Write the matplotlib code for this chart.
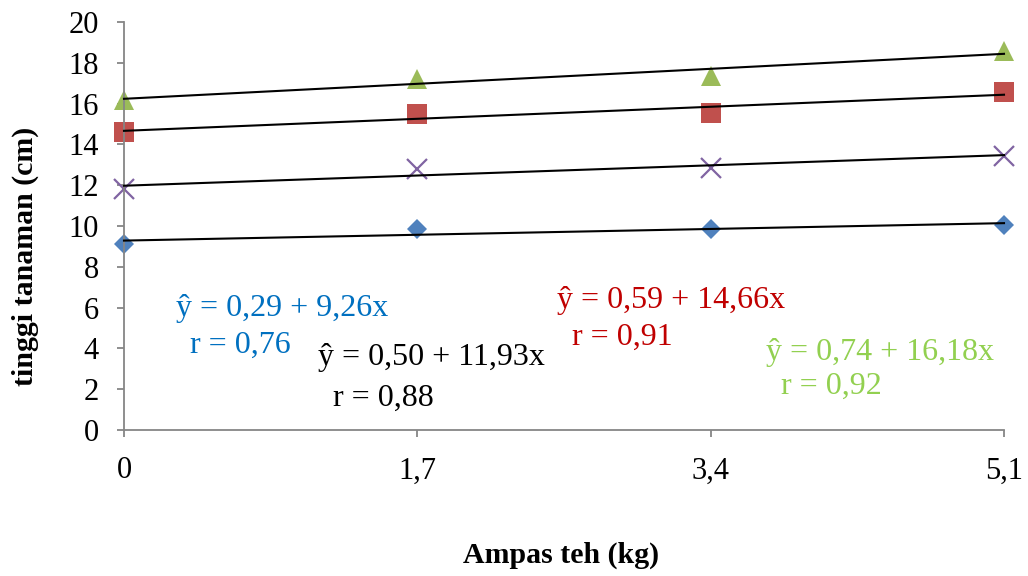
import numpy as np
import matplotlib
matplotlib.use("Agg")
import matplotlib.pyplot as plt

# ---- data ----
x_labels = ['0', '1,7', '3,4', '5,1']
blue = [9.1, 9.85, 9.85, 10.05]
purple = [11.8, 12.8, 12.85, 13.45]
red = [14.6, 15.5, 15.55, 16.55]
green = [16.2, 17.2, 17.35, 18.6]

eq_texts = ['ŷ = 0,29 + 9,26x', 'ŷ = 0,50 + 11,93x', 'ŷ = 0,59 + 14,66x', 'ŷ = 0,74 + 16,18x']
r_texts = ['r = 0,76', 'r = 0,88', 'r = 0,91', 'r = 0,92']

plt.rcParams['font.family'] = ['Liberation Serif', 'DejaVu Serif']

fig = plt.figure(figsize=(10.28, 5.76), dpi=100)
ax = fig.add_axes([124/1028, 1-430/576, 880/1028, 408/576])

xi = np.arange(len(x_labels))

# series: values, marker, color, size
series = [
    (blue, 'D', '#4F81BD', 10),
    (purple, 'x', '#8064A2', 14),
    (red, 's', '#C0504D', 14),
    (green, '^', '#9BBB59', 14),
]

# trend lines first (black), markers on top
for vals, mk, col, ms in series:
    b, a = np.polyfit(xi, vals, 1)
    ax.plot(xi, a + b*xi, color='black', lw=1.5, zorder=3, clip_on=False)
for vals, mk, col, ms in series:
    if mk == 'x':
        ax.plot(xi, vals, linestyle='none', marker=mk, ms=ms, mew=1.6,
                color=col, zorder=2, clip_on=False)
    else:
        ax.plot(xi, vals, linestyle='none', marker=mk, ms=ms, mew=0,
                color=col, zorder=2, clip_on=False)

ax.set_xlim(0, 3)
ax.set_ylim(0, 20)
ax.set_yticks(np.arange(0, 21, 2))
ax.set_xticks(xi)
ax.set_xticklabels(x_labels)

for s in ['top', 'right']:
    ax.spines[s].set_visible(False)
for s in ['left', 'bottom']:
    ax.spines[s].set_color('#868686')
    ax.spines[s].set_linewidth(1.3)
ax.tick_params(axis='both', colors='#868686', length=5, width=1.3,
               labelsize=22, labelcolor='black')
ax.tick_params(axis='y', pad=13)
ax.tick_params(axis='x', pad=14)

# equations
txt_col = ['#0070C0', 'black', '#C00000', '#92D050']
eq_pos = [(0.177, 5.98), (0.661, 3.53), (1.476, 6.37), (2.189, 3.82)]
r_pos = [(0.225, 4.17), (0.713, 1.57), (1.527, 4.56), (2.24, 2.16)]
for i in range(4):
    ax.text(eq_pos[i][0], eq_pos[i][1], eq_texts[i], color=txt_col[i],
            fontsize=23, ha='left', va='center')
    ax.text(r_pos[i][0], r_pos[i][1], r_texts[i], color=txt_col[i],
            fontsize=23, ha='left', va='center')

fig.text(561/1028, 1-555/576, 'Ampas teh (kg)', fontsize=21.5, fontweight='bold',
         ha='center', va='center')
fig.text(25/1028, 1-256/576, 'tinggi tanaman (cm)', fontsize=21.5, fontweight='bold',
         ha='center', va='center', rotation=90)

fig.savefig('out.png', dpi=100)
